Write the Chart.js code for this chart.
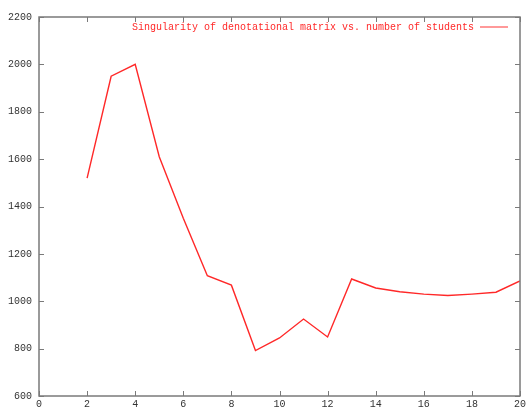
<!DOCTYPE html>
<html lang="en">
<head>
<meta charset="UTF-8">
<title>Singularity of denotational matrix</title>
<script src="https://cdn.jsdelivr.net/npm/chart.js"></script>
<style>
  html, body { margin: 0; padding: 0; background: #fff; }
  #wrap { width: 529px; height: 410px; }
</style>
</head>
<body>
<div id="wrap"><canvas id="chart" width="529" height="410"></canvas></div>
<script>
// number of students
const students = [2, 3, 4, 5, 6, 7, 8, 9, 10, 11, 12, 13, 14, 15, 16, 17, 18, 19, 20];
// singularity values
const singularity = [1520, 1950, 2000, 1610, 1350, 1108, 1068, 792, 845, 925, 849, 1094, 1056, 1040, 1030, 1024, 1030, 1038, 1086];
const seriesLabel = "Singularity of denotational matrix vs. number of students";

const FONT = "'Liberation Mono', 'DejaVu Sans Mono', monospace";
const RED = "rgb(255, 40, 40)";

// gnuplot style: box border, ticks pointing inward on all four sides, key in the corner
const gnuplotFrame = {
  id: "gnuplotFrame",
  afterDraw(chart) {
    const { ctx, chartArea: a, scales } = chart;
    ctx.save();
    ctx.strokeStyle = "#7a7a7a";
    ctx.lineWidth = 1.5;
    ctx.strokeRect(a.left, a.top, a.right - a.left, a.bottom - a.top);

    ctx.lineWidth = 1;
    ctx.beginPath();
    scales.x.ticks.forEach(t => {
      const px = Math.round(scales.x.getPixelForValue(t.value)) + 0.5;
      ctx.moveTo(px, a.bottom); ctx.lineTo(px, a.bottom - 5);
      ctx.moveTo(px, a.top); ctx.lineTo(px, a.top + 5);
    });
    scales.y.ticks.forEach(t => {
      const py = Math.round(scales.y.getPixelForValue(t.value)) + 0.5;
      ctx.moveTo(a.left, py); ctx.lineTo(a.left + 5, py);
      ctx.moveTo(a.right, py); ctx.lineTo(a.right - 5, py);
    });
    ctx.stroke();

    // key
    ctx.font = "10px " + FONT;
    ctx.fillStyle = RED;
    ctx.textAlign = "right";
    ctx.textBaseline = "middle";
    const ky = a.top + 10;
    ctx.fillText(chart.data.datasets[0].label, a.right - 46, ky);
    ctx.strokeStyle = "rgb(255, 110, 110)";
    ctx.lineWidth = 1.4;
    ctx.beginPath();
    ctx.moveTo(a.right - 40, ky);
    ctx.lineTo(a.right - 12, ky);
    ctx.stroke();
    ctx.restore();
  }
};

new Chart(document.getElementById("chart"), {
  type: "line",
  data: {
    datasets: [{
      label: seriesLabel,
      data: students.map((s, i) => ({ x: s, y: singularity[i] })),
      borderColor: RED,
      borderWidth: 1.4,
      pointRadius: 0,
      tension: 0,
      fill: false
    }]
  },
  options: {
    responsive: false,
    animation: false,
    layout: { padding: { top: 17, right: 9, left: 0, bottom: 0 } },
    plugins: { legend: { display: false }, tooltip: { enabled: false } },
    scales: {
      x: {
        type: "linear",
        min: 0,
        max: 20,
        ticks: {
          stepSize: 2, color: "#333", font: { family: FONT, size: 10 }, padding: 2, maxRotation: 0,
          callback: v => String(v)
        },
        grid: { display: false, drawTicks: false },
        border: { display: false },
        afterFit(scale) { scale.height = 14; }
      },
      y: {
        min: 600,
        max: 2200,
        ticks: {
          stepSize: 200, color: "#333", font: { family: FONT, size: 10 }, padding: 7,
          callback: v => String(v)
        },
        grid: { display: false, drawTicks: false },
        border: { display: false },
        afterFit(scale) { scale.width = 39; }
      }
    }
  },
  plugins: [gnuplotFrame]
});
</script>
</body>
</html>
